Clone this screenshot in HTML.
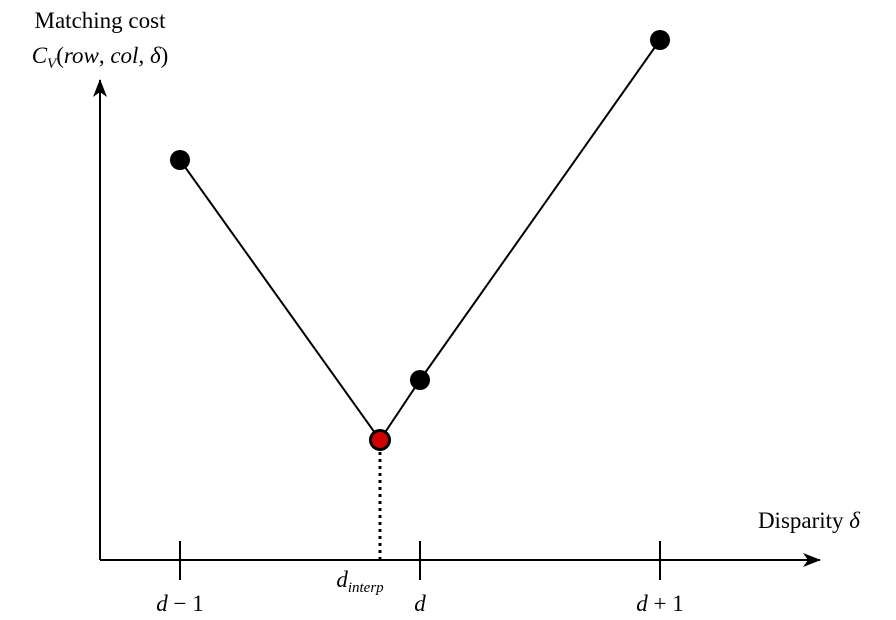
<!DOCTYPE html>
<html><head><meta charset="utf-8"><style>
html,body{margin:0;padding:0;background:#fff;}
svg{display:block;font-family:"Liberation Serif",serif;}
</style></head><body>
<svg width="896" height="620" viewBox="0 0 896 620">
<defs><marker id="ah" markerWidth="18" markerHeight="14" refX="17" refY="7" orient="auto" markerUnits="userSpaceOnUse"><path d="M0,0 L18,7 L0,14 L5,7 Z" fill="#000"/></marker></defs>
<line x1="100" y1="560" x2="100" y2="80" stroke="#000" stroke-width="2" marker-end="url(#ah)"/>
<line x1="100" y1="560" x2="820" y2="560" stroke="#000" stroke-width="2" marker-end="url(#ah)"/>
<text x="100" y="28" font-size="23" text-anchor="middle">Matching cost</text>
<text x="100" y="63" font-size="23" text-anchor="middle" font-style="italic">C<tspan font-size="15" dy="5">V</tspan><tspan dy="-5" font-style="normal">(</tspan>row<tspan font-style="normal">, </tspan>col<tspan font-style="normal">, </tspan>δ<tspan font-style="normal">)</tspan></text>
<text x="860" y="528" font-size="23" text-anchor="end">Disparity <tspan font-style="italic">δ</tspan></text>
<g id="ticks"></g>
<g id="marks"></g>
</svg>
<script>
const tickValues=[-1,0,1];
const tickLabels=["<tspan font-style='italic'>d</tspan> − 1","<tspan font-style='italic'>d</tspan>","<tspan font-style='italic'>d</tspan> + 1"];
const pointX=[-1,1,0];
const pointY=[400,520,180];
const interpX=-1/6;
const interpY=120;
const xs=v=>420+v*240;
const ys=v=>560-v;
const NS="http://www.w3.org/2000/svg";
function mk(t,a,p){const e=document.createElementNS(NS,t);for(const k in a)e.setAttribute(k,a[k]);p.appendChild(e);return e;}
const tg=document.getElementById('ticks');
tickValues.forEach((v,i)=>{
 const l=mk('line',{x1:xs(v),x2:xs(v),y1:541,y2:580,stroke:'#000','stroke-width':2},tg);
 
 
 const t=mk('text',{x:xs(v),y:611,'font-size':23,'text-anchor':'middle'},tg);
 t.innerHTML=tickLabels[i];
 
 
});
const g=document.getElementById('marks');
const order=[0,2,1];
const lx=order.map(i=>pointX[i]);
const ly=order.map(i=>pointY[i]);
const pts=[[xs(lx[0]),ys(ly[0])],[xs(interpX),ys(interpY)],[xs(lx[1]),ys(ly[1])],[xs(lx[2]),ys(ly[2])]];
const pl=mk('polyline',{points:pts.map(p=>p.join(',')).join(' '),fill:'none',stroke:'#000','stroke-width':2},g);


const dl=mk('line',{x1:xs(interpX),x2:xs(interpX),y1:ys(interpY)+12,y2:560,stroke:'#000','stroke-width':3,'stroke-dasharray':'3,4'},g);


pointX.forEach((v,i)=>{
 const c=mk('circle',{cx:xs(v),cy:ys(pointY[i]),r:10,fill:'#000'},g);
 
 
});
const rc=mk('circle',{cx:xs(interpX),cy:ys(interpY),r:9.5,fill:'#d00000',stroke:'#000','stroke-width':3},g);


const it=mk('text',{x:xs(interpX)-20,y:587,'font-size':23,'text-anchor':'middle','font-style':'italic'},g);
it.innerHTML='d<tspan font-size="15" dy="5">interp</tspan>';


</script>
</body></html>
